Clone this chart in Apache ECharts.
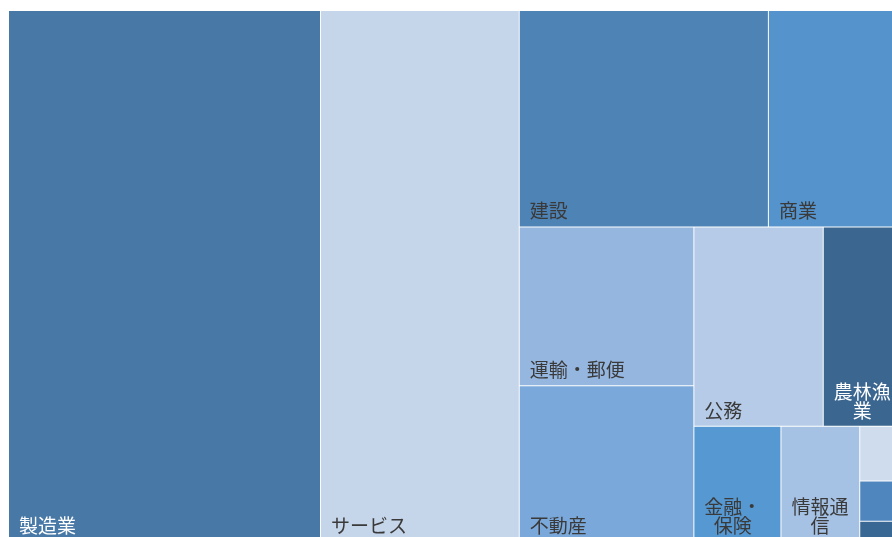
<!DOCTYPE html>
<html>
<head>
<meta charset="utf-8">
<script src="https://cdn.jsdelivr.net/npm/echarts@6/dist/echarts.min.js"></script>
<style>
html, body { margin: 0; padding: 0; background: #fff; overflow: hidden; }
#main { width: 892px; height: 537px; }
</style>
</head>
<body>
<div id="main"></div>
<script>
// 産業別の構成比（%）
var names = ['製造業', 'サービス', '建設', '商業', '運輸・郵便', '不動産', '公務', '農林漁業', '金融・保険', '情報通信', '電気・ガス・水道', '鉱業', 'その他'];
var labels = ['製造業', 'サービス', '建設', '商業', '運輸・郵便', '不動産', '公務', '農林漁\n業', '金融・\n保険', '情報通\n信', '', '', ''];
var values = [34.7, 22.1, 11.3, 6.4, 5.8, 5.7, 5.4, 3.6, 2.1, 1.9, 0.57, 0.42, 0.21];
var colors = ['#4878a6', '#c5d5ea', '#4e83b5', '#5593cd', '#94b6df', '#7aa8da', '#b6cbe7', '#3b6690', '#5698d2', '#a5c1e4', '#cfdcee', '#4f86be', '#3a6894'];
var textColors = ['#fff', '#3a3a3a', '#3a3a3a', '#3a3a3a', '#3a3a3a', '#3a3a3a', '#3a3a3a', '#fff', '#3a3a3a', '#3a3a3a', '#3a3a3a', '#3a3a3a', '#3a3a3a'];
// 並べ方のためのグループ（表示はしない）
var groupPath = ['', '', 'a', 'a', 'a/b', 'a/b', 'a/b/c', 'a/b/c', 'a/b/d', 'a/b/d', 'a/b/d', 'a/b/d', 'a/b/d'];

var fs = 19;
var padL = 10;
var ctx = document.createElement('canvas').getContext('2d');
ctx.font = fs + 'px "Noto Sans CJK JP"';

function labelOf(i) {
    var txt = labels[i];
    var lab = { show: txt !== '', color: textColors[i], formatter: txt };
    if (txt.indexOf('\n') >= 0) {
        // 複数行は行どうしを中央揃え
        var w = 0;
        txt.split('\n').forEach(function (s) { w = Math.max(w, ctx.measureText(s).width); });
        lab.align = 'center';
        lab.overflow = 'none';
        lab.padding = [0, 0, 6, 0];
        lab.offset = [padL + w / 2, 0];
    }
    return lab;
}

function buildTree() {
    var root = { children: [] };
    var lookup = { '': root };
    for (var i = 0; i < names.length; i++) {
        var path = groupPath[i];
        var parts = path ? path.split('/') : [];
        var parent = root, key = '';
        for (var j = 0; j < parts.length; j++) {
            key = key ? key + '/' + parts[j] : parts[j];
            if (!lookup[key]) {
                lookup[key] = { name: '', children: [] };
                parent.children.push(lookup[key]);
            }
            parent = lookup[key];
        }
        parent.children.push({
            name: names[i],
            value: values[i],
            itemStyle: { color: colors[i] },
            label: labelOf(i)
        });
    }
    return root.children;
}

var myChart = echarts.init(document.getElementById('main'));
var option = {
    animation: false,
    series: [
        {
            type: 'treemap',
            left: 9,
            top: 11,
            width: 900,
            height: 530,
            roam: false,
            nodeClick: false,
            sort: false,
            squareRatio: 1,
            breadcrumb: { show: false },
            itemStyle: {
                borderColor: '#fff',
                borderWidth: 0,
                gapWidth: 1
            },
            label: {
                show: true,
                position: 'insideBottomLeft',
                overflow: 'break',
                padding: [0, 8, 6, padL],
                fontSize: fs,
                lineHeight: 19,
                fontFamily: 'Noto Sans CJK JP'
            },
            upperLabel: { show: false },
            data: buildTree()
        }
    ]
};
myChart.setOption(option);
</script>
</body>
</html>
